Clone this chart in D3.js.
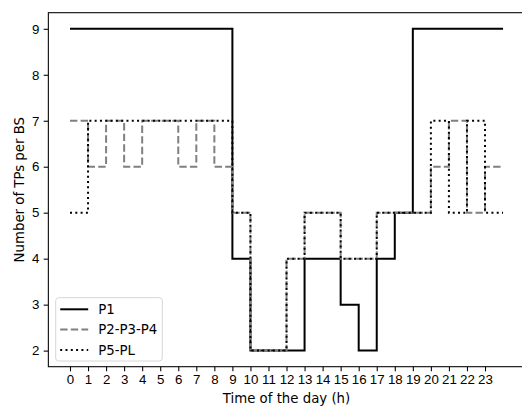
<!DOCTYPE html>
<html>
<head>
<meta charset="utf-8">
<script src="https://cdn.jsdelivr.net/npm/d3@7"></script>
<style>
  body { margin: 0; background: #fff; }
  svg { display: block; font-family: "DejaVu Sans", sans-serif; }
  .axis text { font-size: 13.3px; fill: #000; }
  .axis path, .axis line { stroke: #000; stroke-width: 1.07px; }
</style>
</head>
<body>
<div id="chart"></div>
<script>
// hours of the day, 24 marks the end of the last step
const hours = d3.range(0, 25)
const xTickValues = d3.range(0, 24)
const yTickValues = [2, 3, 4, 5, 6, 7, 8, 9]

// number of TPs per BS for each hour (0..23)
const p1 = [9, 9, 9, 9, 9, 9, 9, 9, 9, 4, 2, 2, 2, 4, 4, 3, 2, 4, 5, 9, 9, 9, 9, 9]
const p2p3p4 = [7, 6, 7, 6, 7, 7, 6, 7, 6, 5, 2, 2, 4, 5, 5, 4, 4, 5, 5, 5, 6, 7, 5, 6]
const p5pl = [5, 7, 7, 7, 7, 7, 7, 7, 7, 5, 2, 2, 4, 5, 5, 4, 4, 5, 5, 5, 7, 5, 7, 5]

const seriesNames = ['P1', 'P2-P3-P4', 'P5-PL']

function draw() {
  const dimensions = {
    width: 522,
    height: 406,
    left: 48.35,
    right: 524.7,   // the right spine falls just outside the picture
    top: 12.7,
    bottom: 366.7
  }

  const svg = d3.select('#chart')
    .append('svg')
    .attr('width', dimensions.width)
    .attr('height', dimensions.height)

  // scales, with matplotlib-like 5% margins
  const xScale = d3.scaleLinear()
    .domain([-1.2, 25.2])
    .range([dimensions.left, dimensions.right])

  const yScale = d3.scaleLinear()
    .domain([1.65, 9.35])
    .range([dimensions.bottom, dimensions.top])

  // series: repeat last value so the step runs to hour 24
  const toPoints = vals => hours.map((h, i) => ({ x: h, y: vals[Math.min(i, vals.length - 1)] }))

  const series = [
    { name: seriesNames[0], values: p1, color: '#000', dash: null },
    { name: seriesNames[1], values: p2p3p4, color: '#808080', dash: '7.4,3.2' },
    { name: seriesNames[2], values: p5pl, color: '#000', dash: '2,3.3' }
  ]

  const line = d3.line()
    .x(d => xScale(d.x))
    .y(d => yScale(d.y))
    .curve(d3.curveStepAfter)

  svg.append('g')
    .selectAll('path')
    .data(series)
    .join('path')
    .attr('d', d => line(toPoints(d.values)))
    .attr('fill', 'none')
    .attr('stroke', d => d.color)
    .attr('stroke-width', 2)
    .attr('stroke-dasharray', d => d.dash)

  // axes
  const xAxis = d3.axisBottom(xScale)
    .tickValues(xTickValues)
    .tickSize(4.67)
    .tickPadding(3.6)
    .tickFormat(d3.format('d'))

  const yAxis = d3.axisLeft(yScale)
    .tickValues(yTickValues)
    .tickSize(4.67)
    .tickPadding(4.2)
    .tickFormat(d3.format('d'))

  const xAxisGroup = svg.append('g')
    .attr('class', 'axis')
    .attr('transform', `translate(0, ${dimensions.bottom})`)
    .call(xAxis)
  xAxisGroup.select('.domain').remove()

  const yAxisGroup = svg.append('g')
    .attr('class', 'axis')
    .attr('transform', `translate(${dimensions.left}, 0)`)
    .call(yAxis)
  yAxisGroup.select('.domain').remove()

  // spines
  svg.append('rect')
    .attr('x', dimensions.left)
    .attr('y', dimensions.top)
    .attr('width', dimensions.right - dimensions.left)
    .attr('height', dimensions.bottom - dimensions.top)
    .attr('fill', 'none')
    .attr('stroke', '#000')
    .attr('stroke-width', 1.07)

  // axis labels
  svg.append('text')
    .attr('x', (dimensions.left + dimensions.right) / 2)
    .attr('y', 403)
    .attr('text-anchor', 'middle')
    .style('font-size', '13.3px')
    .text('Time of the day (h)')

  svg.append('text')
    .attr('transform', `translate(24, ${(dimensions.top + dimensions.bottom) / 2}) rotate(-90)`)
    .attr('text-anchor', 'middle')
    .style('font-size', '13.3px')
    .text('Number of TPs per BS')

  // legend
  const legend = svg.append('g')
    .attr('transform', 'translate(55.7, 297.7)')

  legend.append('rect')
    .attr('width', 106.6)
    .attr('height', 63.3)
    .attr('rx', 3)
    .attr('fill', 'rgba(255,255,255,0.8)')
    .attr('stroke', '#d6d6d6')
    .attr('stroke-width', 1)

  const items = legend.selectAll('g.item')
    .data(series)
    .join('g')
    .attr('class', 'item')
    .attr('transform', (d, i) => `translate(0, ${11.6 + i * 20.3})`)

  items.append('line')
    .attr('x1', 4.5)
    .attr('x2', 32.5)
    .attr('stroke', d => d.color)
    .attr('stroke-width', 2)
    .attr('stroke-dasharray', d => d.dash)

  items.append('text')
    .attr('x', 42.5)
    .attr('dy', '0.35em')
    .style('font-size', '13.3px')
    .text(d => d.name)
}

draw()
</script>
</body>
</html>
